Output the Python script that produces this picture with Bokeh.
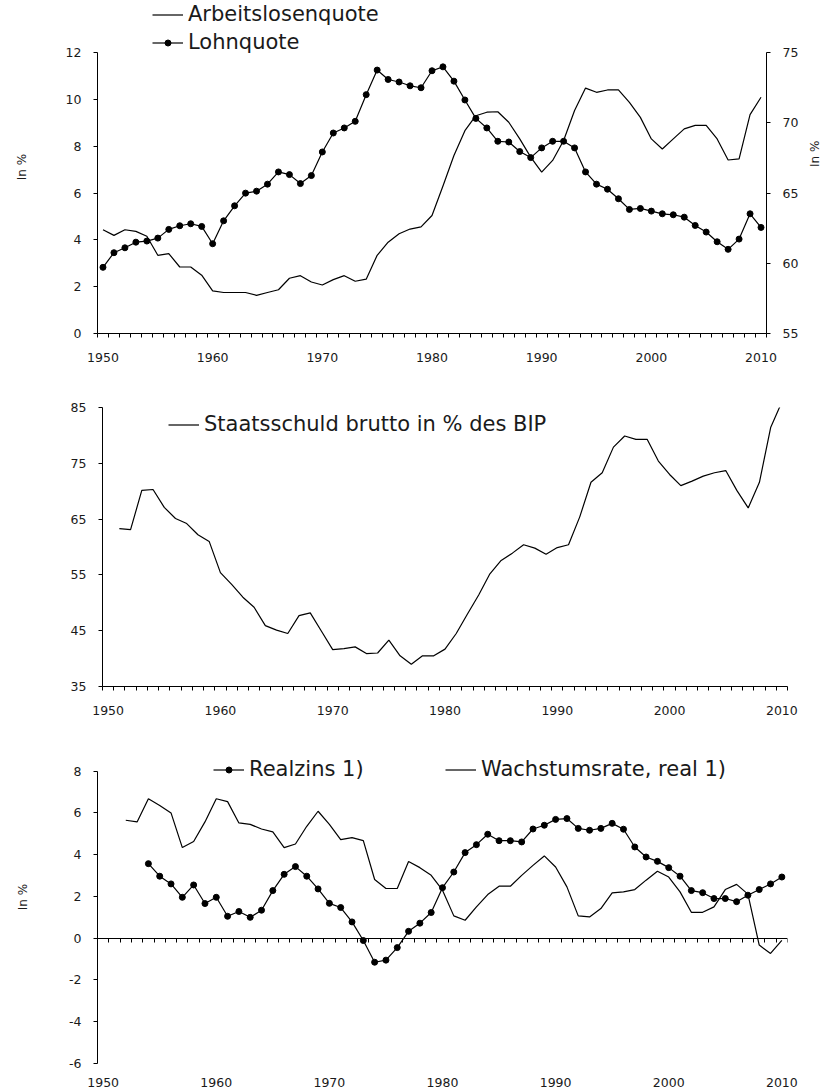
import math
from bokeh.plotting import figure
from bokeh.models import Range1d, LinearAxis, FixedTicker, Legend, LegendItem
from bokeh.layouts import column
from bokeh.embed import file_html
from bokeh.resources import INLINE

FONT = "DejaVu Sans"

# ---------------- data ----------------
years_1 = list(range(1950, 2011))
arbeitslosenquote = [4.43, 4.19, 4.43, 4.36, 4.15, 3.34, 3.41, 2.84, 2.84, 2.49,
                     1.82, 1.75, 1.75, 1.75, 1.63, 1.75, 1.87, 2.36, 2.47, 2.20,
                     2.07, 2.30, 2.47, 2.23, 2.32, 3.34, 3.90, 4.26, 4.46, 4.55,
                     5.04, 6.30, 7.60, 8.66, 9.30, 9.45, 9.47, 9.02, 8.31, 7.53,
                     6.89, 7.39, 8.24, 9.52, 10.48, 10.30, 10.40, 10.40, 9.87, 9.23,
                     8.31, 7.88, 8.31, 8.74, 8.89, 8.89, 8.31, 7.41, 7.46, 9.35, 10.09]
lohnquote = [59.71, 60.75, 61.10, 61.50, 61.58, 61.79, 62.41, 62.67, 62.81, 62.62,
             61.39, 63.02, 64.09, 64.99, 65.13, 65.63, 66.50, 66.31, 65.67, 66.24,
             67.92, 69.27, 69.63, 70.10, 72.00, 73.75, 73.08, 72.90, 72.63, 72.49,
             73.70, 73.98, 72.96, 71.62, 70.31, 69.63, 68.68, 68.63, 67.95, 67.52,
             68.21, 68.68, 68.68, 68.21, 66.50, 65.63, 65.27, 64.59, 63.83, 63.90,
             63.71, 63.52, 63.45, 63.28, 62.69, 62.22, 61.53, 60.99, 61.72, 63.52, 62.55]

years_2 = list(range(1951, 2011))
staatsschuld = [63.3, 63.1, 70.15, 70.3, 67.1, 65.1, 64.2, 62.2, 61.0,
                55.4, 53.3, 51.0, 49.2, 45.9, 45.1, 44.5, 47.7, 48.2, 44.9,
                41.6, 41.8, 42.1, 40.9, 41.0, 43.3, 40.5, 39.0, 40.5, 40.5,
                41.7, 44.5, 48.0, 51.4, 55.2, 57.6, 58.9, 60.4, 59.8, 58.7,
                59.9, 60.4, 65.4, 71.6, 73.3, 77.9, 79.9, 79.3, 79.3, 75.4,
                73.0, 71.0, 71.8, 72.7, 73.3, 73.7, 70.1, 67.0, 71.6, 81.4, 86.0]

years_real = list(range(1954, 2011))
realzins = [3.57, 2.97, 2.60, 1.96, 2.55, 1.66,
            1.96, 1.05, 1.28, 1.00, 1.34, 2.28, 3.06, 3.43, 2.97, 2.36,
            1.67, 1.47, 0.78, -0.11, -1.15, -1.05, -0.45, 0.33, 0.72, 1.23,
            2.42, 3.17, 4.10, 4.48, 4.98, 4.67, 4.67, 4.61, 5.23, 5.41,
            5.69, 5.73, 5.26, 5.17, 5.26, 5.50, 5.22, 4.37, 3.89, 3.68,
            3.38, 2.97, 2.28, 2.18, 1.90, 1.90, 1.75, 2.06, 2.33, 2.60, 2.93]

years_growth = list(range(1952, 2011))
wachstumsrate = [5.65, 5.57, 6.68, 6.36, 6.00, 4.34, 4.63, 5.57,
                 6.68, 6.54, 5.52, 5.45, 5.23, 5.09, 4.34, 4.51, 5.36, 6.08,
                 5.45, 4.72, 4.82, 4.67, 2.81, 2.38, 2.38, 3.67, 3.38, 3.01,
                 2.30, 1.07, 0.86, 1.50, 2.09, 2.49, 2.49, 3.01, 3.49, 3.94,
                 3.41, 2.46, 1.07, 1.02, 1.42, 2.17, 2.22, 2.33, 2.78, 3.21,
                 2.93, 2.22, 1.24, 1.24, 1.50, 2.33, 2.58, 2.11, -0.33, -0.73, -0.10]

decade_ticks = [1950, 1960, 1970, 1980, 1990, 2000, 2010]
year_bounds = [y - 0.5 for y in range(1950, 2012)]
ticks_left_1 = [0, 2, 4, 6, 8, 10, 12]
ticks_right_1 = [55, 60, 65, 70, 75]
ticks_2 = [35, 45, 55, 65, 75, 85]
ticks_3 = [-6, -4, -2, 0, 2, 4, 6, 8]

label_1 = "Arbeitslosenquote"
label_2 = "Lohnquote"
label_3 = "Staatsschuld brutto in % des BIP"
label_4 = "Realzins 1)"
label_5 = "Wachstumsrate, real 1)"
y_title = "In %"

W = 832
TXT = "#1a1a1a"
LEG_SIZE = "21px"


def base_fig(height, yr, bl, br, bt, bb):
    p = figure(width=W, height=height, x_range=Range1d(1949.5, 2010.5),
               y_range=Range1d(*yr), output_backend="svg", toolbar_location=None,
               x_axis_type=None, y_axis_type=None,
               min_border_left=bl, min_border_right=br,
               min_border_top=bt, min_border_bottom=bb, frame_align=False)
    p.outline_line_color = None
    p.background_fill_color = "white"
    p.border_fill_color = "white"
    return p


def style_axis(ax):
    ax.axis_line_color = "black"
    ax.axis_line_width = 1
    ax.major_label_text_font = FONT
    ax.major_label_text_font_size = "12.5px"
    ax.major_label_text_color = TXT
    ax.axis_label_text_font = FONT
    ax.axis_label_text_font_size = "12px"
    ax.axis_label_text_font_style = "normal"
    ax.axis_label_text_color = TXT
    ax.minor_tick_line_color = None
    ax.major_tick_line_color = "black"
    ax.major_tick_in = 0
    ax.major_tick_out = 4
    ax.major_label_standoff = 12


def bottom_axis(p):
    xa = LinearAxis(ticker=FixedTicker(ticks=decade_ticks, minor_ticks=year_bounds))
    style_axis(xa)
    xa.major_tick_line_color = None
    xa.major_tick_out = 0
    xa.minor_tick_line_color = "black"
    xa.minor_tick_in = 0
    xa.minor_tick_out = 4
    xa.major_label_standoff = 15
    p.add_layout(xa, "below")


def add_legend(p, label, renderers, x, y):
    lg = Legend(items=[LegendItem(label=label, renderers=renderers)],
                location=(x, y), orientation="vertical",
                label_text_font=FONT, label_text_font_size=LEG_SIZE,
                label_text_color=TXT, glyph_width=31, glyph_height=15,
                label_standoff=5, padding=0, margin=0, spacing=0,
                border_line_color=None, background_fill_alpha=0)
    p.add_layout(lg, "center")


# ---------------- panel 1 ----------------
# frame from the figure top (y=0) to y=333; value 12 / 75 sit at y=52
p1_top_px, p1_axis_top, p1_bottom = 0, 52, 333
k1 = (p1_axis_top - p1_top_px) / (p1_bottom - p1_axis_top)
p1 = base_fig(370, (0, 12 + 12 * k1), 97, W - 770, 0, 370 - p1_bottom)
p1.extra_y_ranges = {"lohn": Range1d(55, 75 + 20 * k1)}
ya = LinearAxis(ticker=FixedTicker(ticks=ticks_left_1), axis_label=y_title, bounds=(0, 12))
style_axis(ya)
ya.axis_label_standoff = 34
p1.add_layout(ya, "left")
yb = LinearAxis(y_range_name="lohn", ticker=FixedTicker(ticks=ticks_right_1),
                axis_label=y_title, bounds=(55, 75))
style_axis(yb)
yb.axis_label_standoff = 14
if "axis_label_orientation" in yb.properties():
    yb.axis_label_orientation = math.pi / 2
p1.add_layout(yb, "right")
bottom_axis(p1)

r_al = p1.line(years_1, arbeitslosenquote, line_color="black", line_width=1.2)
r_lq_l = p1.line(years_1, lohnquote, line_color="black", line_width=1.2, y_range_name="lohn")
r_lq_m = p1.scatter(years_1, lohnquote, size=6, fill_color="black", line_color="black",
                    y_range_name="lohn")
add_legend(p1, label_1, [r_al], 55, 307)
add_legend(p1, label_2, [r_lq_l, r_lq_m], 55, 279)

# ---------------- panel 2 ----------------
p2 = base_fig(360, (35, 85), 102, W - 787, 37, 44)
ya2 = LinearAxis(ticker=FixedTicker(ticks=ticks_2))
style_axis(ya2)
p2.add_layout(ya2, "left")
bottom_axis(p2)
r_ss = p2.line(years_2, staatsschuld, line_color="black", line_width=1.2)
add_legend(p2, label_3, [r_ss], 66, 250)

# ---------------- panel 3 ----------------
# frame from the figure top to y=333; value 8 sits at y=40.7
p3_axis_top, p3_bottom = 40.7, 333.3
k3 = p3_axis_top / (p3_bottom - p3_axis_top)
p3 = base_fig(362, (-6, 8 + 14 * k3), 97, W - 787, 0, 29)
ya3 = LinearAxis(ticker=FixedTicker(ticks=ticks_3), axis_label=y_title, bounds=(-6, 8))
style_axis(ya3)
ya3.axis_label_standoff = 36
ya3.major_label_overrides = {t: str(t) for t in ticks_3}
p3.add_layout(ya3, "left")

xz = LinearAxis(fixed_location=0, ticker=FixedTicker(ticks=[], minor_ticks=year_bounds))
style_axis(xz)
xz.major_tick_line_color = None
xz.major_tick_in = 0
xz.major_tick_out = 0
xz.minor_tick_line_color = "black"
xz.minor_tick_in = 4
xz.minor_tick_out = 0
xz.major_label_standoff = 0
p3.add_layout(xz, "above")

xl = LinearAxis(ticker=FixedTicker(ticks=decade_ticks))
style_axis(xl)
xl.axis_line_color = None
xl.major_tick_line_color = None
xl.major_tick_out = 0
xl.major_label_standoff = 14
p3.add_layout(xl, "below")

r_wr = p3.line(years_growth, wachstumsrate, line_color="black", line_width=1.2)
r_rz_l = p3.line(years_real, realzins, line_color="black", line_width=1.2)
r_rz_m = p3.scatter(years_real, realzins, size=6, fill_color="black", line_color="black")
add_legend(p3, label_4, [r_rz_l, r_rz_m], 116, 282)
add_legend(p3, label_5, [r_wr], 348, 282)

layout = column(p1, p2, p3, spacing=0)
open("out.html", "w").write(file_html(layout, INLINE))
